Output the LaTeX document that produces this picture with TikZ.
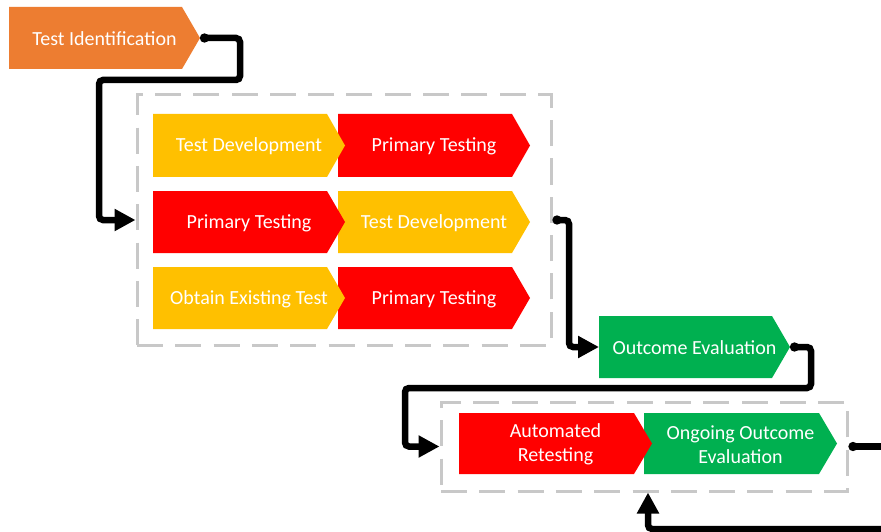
\documentclass[tikz,border=0pt]{standalone}
\usepackage{fontspec}
\setmainfont{Carlito}
\usetikzlibrary{arrows.meta}
\definecolor{cOrange}{HTML}{ED7D31}
\definecolor{cYellow}{HTML}{FFC000}
\definecolor{cRed}{HTML}{FF0000}
\definecolor{cGreen}{HTML}{00B050}
\definecolor{cDash}{RGB}{200,200,200}
\tikzset{
  chevtext/.style={text=white, font=\fontsize{20}{24}\selectfont, align=center, inner sep=0pt},
  dashbox/.style={draw=cDash, line width=3pt, dash pattern=on 26pt off 12.3pt, inner sep=0pt},
  conn/.style={line width=6.5pt, rounded corners=4pt, {Circle[length=9pt,width=9pt]}-{Triangle[length=21pt,width=21pt]}},
  connout/.style={line width=6.5pt, rounded corners=4pt, {Circle[length=9pt,width=9pt]}-},
  connin/.style={line width=6.5pt, rounded corners=4pt, -{Triangle[length=21pt,width=21pt]}},
}
% name, x1, y1, xtip, y2, colour, text
\newcommand\chevnode[7]{%
  \fill[#6] (#2,#3) -- (#4-18,#3) -- (#4,{(#3+#5)/2}) -- (#4-18,#5) -- (#2,#5) -- cycle;
  \node[chevtext] (#1) at ({(#2+#4)/2},{(#3+#5)/2+1}) {#7};
  \coordinate (#1-tip) at (#4,{(#3+#5)/2});
  \coordinate (#1-in) at (#2,{(#3+#5)/2});
}
\begin{document}
\begin{tikzpicture}[x=1pt,y=-1pt]
\useasboundingbox (0,0) rectangle (881,532);
\clip (0,0) rectangle (881,532);
\fill[white] (0,0) rectangle (881,532);

% boxes
\node[dashbox, minimum width=414pt, minimum height=250pt] (box1) at (344,220) {};
\node[dashbox, minimum width=406pt, minimum height=89pt] (box2) at (644,446.5) {};

% chevrons
\chevnode{ti}{9}{7}{200}{69}{cOrange}{Test Identification}

\chevnode{r1b}{338}{114}{530}{177}{cRed}{Primary Testing}
\chevnode{r1a}{153}{114}{345}{177}{cYellow}{Test Development}
\chevnode{r2b}{338}{191}{530}{253}{cYellow}{Test Development}
\chevnode{r2a}{153}{191}{345}{253}{cRed}{Primary Testing}
\chevnode{r3b}{338}{267}{530}{329}{cRed}{Primary Testing}
\chevnode{r3a}{153}{267}{345}{329}{cYellow}{Obtain Existing Test}

\chevnode{oe}{599}{316}{790}{378}{cGreen}{Outcome Evaluation}

\chevnode{oo}{644}{413}{837}{474}{cGreen}{Ongoing Outcome\\Evaluation}
\chevnode{ar}{459}{413}{652}{474}{cRed}{Automated\\Retesting}

% connectors
\coordinate (c1) at (240,38);
\coordinate (c2) at (99,80);
\draw[conn] (ti-tip) -- (c1) |- (c2) |- (box1.west);
\coordinate (c3) at (569,220);
\draw[conn] (box1.east) -- (c3) |- (oe-in);
\coordinate (c4) at (811,347);
\coordinate (c5) at (405,388);
\draw[conn] (oe-tip) -- (c4) |- (c5) |- (box2.west);
\coordinate (out1) at (900,446.5);
\draw[connout] (box2.east) -- (out1);
\coordinate (in1) at (900,529);
\coordinate (in2) at (648,529);
\draw[connin] (in1) -- (in2) -- (box2.south -| in2);
\end{tikzpicture}
\end{document}
